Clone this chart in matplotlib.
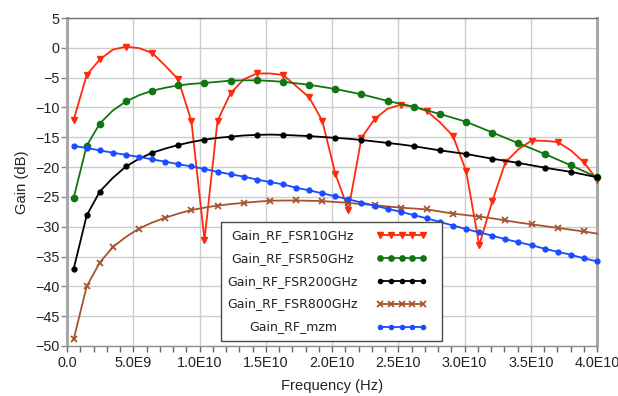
import numpy as np
import matplotlib
matplotlib.use("Agg")
import matplotlib.pyplot as plt
from matplotlib.patches import Rectangle
from matplotlib.lines import Line2D

# frequency sweep: 0.5 GHz .. 40 GHz, 41 points
freq = np.linspace(0.5e9, 40e9, 41)

gain_fsr10 = [-12.1, -4.55, -1.95, -0.3, 0.2, -0.05, -0.85, -3.0, -5.3, -12.3,
              -32.2, -12.2, -7.6, -5.3, -4.3, -4.3, -4.55, -6.4, -8.3, -12.2,
              -21.1, -27.2, -15.1, -11.95, -10.2, -9.55, -9.85, -10.6, -12.5, -14.8,
              -20.7, -33.1, -25.7, -19.2, -17.0, -15.55, -15.6, -15.8, -17.2, -19.2,
              -22.1]
gain_fsr50 = [-25.2, -16.4, -12.7, -10.5, -9.0, -7.95, -7.2, -6.7, -6.3, -6.05,
              -5.9, -5.7, -5.5, -5.45, -5.45, -5.55, -5.7, -5.95, -6.2, -6.55,
              -6.9, -7.35, -7.8, -8.35, -8.9, -9.4, -9.9, -10.5, -11.1, -11.75,
              -12.4, -13.3, -14.2, -15.1, -16.0, -16.9, -17.8, -18.75, -19.7, -20.7,
              -21.7]
gain_fsr200 = [-37.1, -28.1, -24.1, -21.8, -19.9, -18.6, -17.6, -16.9, -16.3, -15.8,
               -15.4, -15.1, -14.9, -14.7, -14.6, -14.55, -14.6, -14.7, -14.8, -14.95,
               -15.1, -15.25, -15.45, -15.7, -15.95, -16.2, -16.5, -16.85, -17.2, -17.5,
               -17.8, -18.2, -18.6, -18.95, -19.3, -19.7, -20.1, -20.45, -20.8, -21.25,
               -21.7]
gain_fsr800 = [-48.9, -40.0, -36.0, -33.4, -31.7, -30.3, -29.3, -28.5, -27.8, -27.2,
               -26.8, -26.45, -26.2, -26.0, -25.8, -25.65, -25.6, -25.6, -25.65, -25.7,
               -25.85, -26.0, -26.2, -26.4, -26.6, -26.8, -26.95, -27.1, -27.45, -27.8,
               -28.05, -28.3, -28.6, -28.95, -29.3, -29.6, -29.9, -30.2, -30.5, -30.8,
               -31.15]
gain_mzm = [-16.45, -16.8, -17.2, -17.6, -17.95, -18.3, -18.7, -19.1, -19.5, -19.9,
            -20.3, -20.8, -21.2, -21.6, -22.1, -22.5, -22.9, -23.45, -23.9, -24.4,
            -24.9, -25.4, -25.95, -26.45, -27.0, -27.5, -28.05, -28.6, -29.2, -29.8,
            -30.4, -30.95, -31.5, -32.1, -32.6, -33.1, -33.7, -34.2, -34.7, -35.3,
            -35.8]

labels = ["Gain_RF_FSR10GHz", "Gain_RF_FSR50GHz", "Gain_RF_FSR200GHz",
          "Gain_RF_FSR800GHz", "Gain_RF_mzm"]

x_ticks = [0, 5e9, 1e10, 1.5e10, 2e10, 2.5e10, 3e10, 3.5e10, 4e10]
x_ticklabels = ["0.0", "5.0E9", "1.0E10", "1.5E10", "2.0E10", "2.5E10",
                "3.0E10", "3.5E10", "4.0E10"]
y_ticks = list(range(-50, 6, 5))

mark_red = [0, 1, 2, 4, 6, 8, 9, 10, 11, 12, 14, 16, 18, 19, 20, 21, 22, 23,
            25, 27, 29, 30, 31, 32, 33, 35, 37, 39, 40]
mark_even = [0, 1, 2] + list(range(4, 41, 2))
mark_odd = [0, 1, 2] + list(range(3, 40, 2))

styles = [
    dict(color="#ff2a0a", marker="v", ms=5, markevery=mark_red),
    dict(color="#127512", marker="o", ms=4.5, markevery=mark_even),
    dict(color="#000000", marker="o", ms=3.5, markevery=mark_even),
    dict(color="#a5542e", marker="x", ms=5, mew=1.3, markevery=mark_odd),
    dict(color="#1a4cff", marker="o", ms=3.5, markevery=None),
]
series = [gain_fsr10, gain_fsr50, gain_fsr200, gain_fsr800, gain_mzm]

plt.rcParams["font.family"] = ["Liberation Sans", "DejaVu Sans"]
plt.rcParams["font.size"] = 10.4

fig = plt.figure(figsize=(6.18, 3.96), dpi=100)
ax = fig.add_axes([67 / 618, 1 - 346 / 396, 530 / 618, 328 / 396])

for y, st in zip(series, styles):
    ax.plot(freq, y, lw=1.3, zorder=3, clip_on=False, **st)

ax.set_xlim(0, 4e10)
ax.set_ylim(-50, 5)
ax.set_xticks(x_ticks)
ax.set_xticklabels(x_ticklabels)
ax.set_yticks(y_ticks)
ax.set_xticks(np.arange(0, 4.01e10, 1e9), minor=True)
ax.tick_params(axis="x", which="both", length=4, width=1, color="#666666",
               direction="out", pad=3, colors="#222222")
ax.tick_params(axis="x", which="both", color="#666666")
ax.tick_params(axis="y", which="major", length=4, width=1, pad=1.5,
               colors="#222222")
ax.tick_params(axis="y", which="major", color="#888888")
ax.grid(True, which="major", color="#cccccc", lw=1)
ax.set_axisbelow(True)

ax.spines["left"].set_color("#a8a8a8")
ax.spines["left"].set_linewidth(2.2)
ax.spines["right"].set_color("#a8a8a8")
ax.spines["right"].set_linewidth(2.2)
ax.spines["top"].set_color("#707070")
ax.spines["top"].set_linewidth(1)
ax.spines["bottom"].set_color("#909090")
ax.spines["bottom"].set_linewidth(1)

ax.set_xlabel("Frequency (Hz)", labelpad=7, fontsize=10.6, color="#222222")
ax.set_ylabel("Gain (dB)", labelpad=4, fontsize=10.6, color="#222222")

# legend box drawn by hand (labels centred like the original)
box = Rectangle((0.290, 0.016), 0.417, 0.363, transform=ax.transAxes,
                facecolor="white", edgecolor="#4a4a4a", lw=1, zorder=5)
ax.add_patch(box)
row_y = [0.338, 0.268, 0.198, 0.128, 0.058]
for lab, st, yy in zip(labels, styles, row_y):
    ax.text(0.426, yy, lab, transform=ax.transAxes, ha="center", va="center",
            zorder=6, color="#222222", family="DejaVu Sans", fontsize=9)
    st2 = {k: v for k, v in st.items() if k != "markevery"}
    st2["ms"] = st2["ms"] * 0.85
    ax.add_line(Line2D(np.linspace(0.591, 0.672, 5), [yy] * 5, transform=ax.transAxes,
                       lw=1.3, zorder=6, **st2))

fig.savefig("out.png", dpi=100)
